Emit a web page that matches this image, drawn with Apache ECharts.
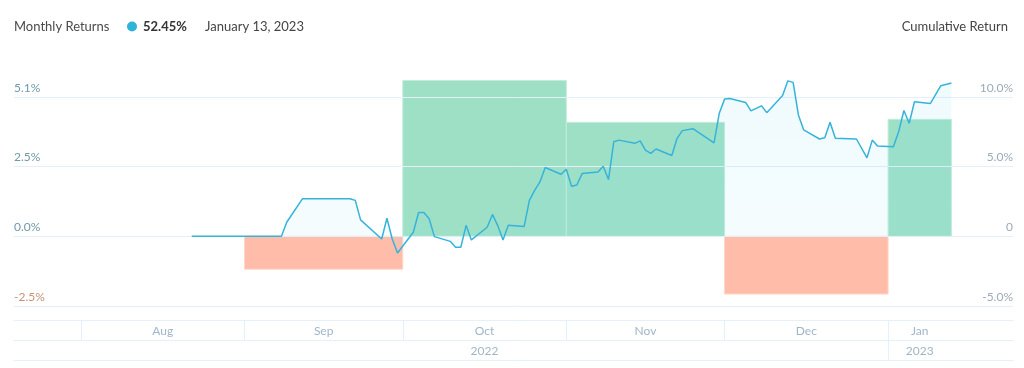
<!DOCTYPE html>
<html><head><meta charset="utf-8">
<script src="https://cdn.jsdelivr.net/npm/echarts@6/dist/echarts.min.js"></script>
<style>html,body{margin:0;padding:0;background:#fff}#c{width:1024px;height:368px}</style>
</head><body><div id="c"></div>
<script>
// ---- data ----
const summaryLabel = 'Monthly Returns';
const summaryValue = '52.45%';
const summaryDate = 'January 13, 2023';
const rightTitle = 'Cumulative Return';

const barStarts = ['2022-09-01','2022-10-01','2022-11-01','2022-12-01','2023-01-01'];
const barEnds   = ['2022-10-01','2022-11-01','2022-12-01','2023-01-01','2023-01-13'];
const monthlyReturns = [-1.20, 5.70, 4.17, -2.11, 4.28];

const cumDates = ['2022-08-22','2022-09-08','2022-09-09','2022-09-12','2022-09-21','2022-09-22','2022-09-23','2022-09-27','2022-09-28','2022-09-29','2022-09-30','2022-10-03','2022-10-04','2022-10-05','2022-10-06','2022-10-07','2022-10-10','2022-10-11','2022-10-12','2022-10-13','2022-10-14','2022-10-17','2022-10-18','2022-10-19','2022-10-20','2022-10-21','2022-10-24','2022-10-25','2022-10-26','2022-10-27','2022-10-28','2022-10-31','2022-11-01','2022-11-02','2022-11-03','2022-11-04','2022-11-07','2022-11-08','2022-11-09','2022-11-10','2022-11-11','2022-11-14','2022-11-15','2022-11-16','2022-11-17','2022-11-18','2022-11-21','2022-11-22','2022-11-23','2022-11-25','2022-11-29','2022-11-30','2022-12-01','2022-12-02','2022-12-05','2022-12-06','2022-12-08','2022-12-09','2022-12-12','2022-12-13','2022-12-14','2022-12-15','2022-12-16','2022-12-19','2022-12-20','2022-12-21','2022-12-22','2022-12-26','2022-12-28','2022-12-29','2022-12-30','2023-01-02','2023-01-03','2023-01-04','2023-01-05','2023-01-06','2023-01-09','2023-01-11','2023-01-13'];
const cumValues = [0, 0, 1.01, 2.70, 2.70, 2.58, 1.18, -0.19, 1.30, -0.19, -1.20, 0.29, 1.71, 1.71, 1.26, -0.02, -0.36, -0.79, -0.79, 0.79, -0.26, 0.65, 1.57, 0.77, -0.26, 0.79, 0.70, 2.58, 3.30, 3.90, 4.94, 4.45, 4.81, 3.59, 3.68, 4.50, 4.62, 5.03, 4.07, 6.78, 6.90, 6.67, 6.85, 6.18, 5.95, 6.26, 5.80, 7.03, 7.58, 7.72, 6.71, 8.83, 9.84, 9.88, 9.60, 9.00, 9.36, 8.87, 10.10, 11.15, 11.04, 8.71, 7.63, 6.98, 7.07, 8.18, 7.03, 6.98, 5.63, 6.90, 6.47, 6.42, 7.50, 9.02, 8.11, 9.65, 9.52, 10.80, 11.00];

const leftTicks = [-2.55, 0, 2.55, 5.1];
const rightTicks = [-5, 0, 5, 10];
const monthBounds = ['2022-08-01','2022-09-01','2022-10-01','2022-11-01','2022-12-01','2023-01-01','2023-01-13'];
const monthLabels = ['Aug','Sep','Oct','Nov','Dec','Jan'];
const yearBounds = ['2022-08-01','2023-01-01','2023-01-13'];
const yearLabels = ['2022','2023'];

// ---- helpers ----
const ts = s => { const p = s.split(' '); return +new Date(p[0] + 'T' + (p[1] || '00:00')); };
const mid = (a, b) => (ts(a) + ts(b)) / 2;
const nearest = (pos, labels, v) => { let k = 0; pos.forEach((p, i) => { if (Math.abs(p - v) < Math.abs(pos[k] - v)) k = i; }); return labels[k]; };
const xMin = ts('2022-07-19 07:12'), xMax = ts('2023-01-24 16:19');
const monthLabelPos = monthLabels.map((_, i) => mid(monthBounds[i], monthBounds[i + 1]));
const monthTickPos = monthBounds.slice(0, -1).map(ts);
const yearLabelPos = yearLabels.map((_, i) => mid(yearBounds[i], yearBounds[i + 1]));
const yearTickPos = yearBounds.slice(1, -1).map(ts);

const FONT = 'Lato, "Noto Sans", sans-serif';
const bandColor = '#e6f0f8';
const gridColor = '#e4eff8';
const lineColor = '#36b3da';
const posFill = '#9ee0c6', negFill = '#ffbda9';

const chart = echarts.init(document.getElementById('c'), null, {renderer: 'canvas'});
const titleStyle = {fontSize: 13, fontWeight: 'normal', color: '#4a4a4a', fontFamily: FONT};
const bandX = (offset, tickPos, labelPos, labels, showLabel) => ({
  type: 'value', gridIndex: 0, min: xMin, max: xMax, position: 'bottom', offset: offset,
  axisLine: {show: true, onZero: false, lineStyle: {color: bandColor, width: 1}},
  axisTick: {show: !!tickPos, inside: false, length: 20, customValues: tickPos || [xMin], lineStyle: {color: bandColor}},
  splitLine: {show: false},
  axisLabel: {show: showLabel, customValues: labelPos || [xMin], margin: 5, fontSize: 12, fontFamily: FONT, color: '#a0b6c6',
    formatter: v => labelPos ? nearest(labelPos, labels, v) : ''}
});

chart.setOption({
  animation: false,
  backgroundColor: '#fff',
  title: [
    {left: 14, top: 20, padding: 0, text: summaryLabel, textStyle: titleStyle},
    {left: 127, top: 20, padding: 0, text: '{dot| }{v|' + summaryValue + '}', textStyle: {fontFamily: FONT, rich: {
      dot: {width: 10, height: 10, borderRadius: 5, backgroundColor: '#2fb3d7'},
      v: {fontSize: 13, fontWeight: 'bold', color: '#333', fontFamily: FONT, padding: [0, 0, 0, 6]}}}},
    {left: 205, top: 20, padding: 0, text: summaryDate, textStyle: Object.assign({}, titleStyle, {color: '#444'})},
    {right: 16, top: 20, padding: 0, text: rightTitle, textStyle: Object.assign({}, titleStyle, {color: '#444'})}
  ],
  grid: {left: 14, right: 11, top: 69, bottom: 48, containLabel: false},
  xAxis: [
    bandX(0, monthTickPos, monthLabelPos, monthLabels, true),
    bandX(20, yearTickPos, yearLabelPos, yearLabels, true),
    bandX(40, null, null, [], false)
  ],
  yAxis: [
    {type: 'value', position: 'left', min: -3.06, max: 6.12, z: 2,
     axisLine: {show: false}, axisTick: {show: false, customValues: leftTicks},
     splitLine: {show: true, lineStyle: {color: gridColor, width: 1}},
     axisLabel: {inside: true, customValues: leftTicks, margin: 0, verticalAlign: 'bottom', padding: [0, 0, 3, 0],
       fontSize: 12, fontFamily: FONT,
       formatter: v => v.toFixed(1) + '%',
       color: v => parseFloat(v) < 0 ? '#c49378' : '#6f99a8'}},
    {type: 'value', position: 'right', min: -6, max: 12, z: 2,
     axisLine: {show: false}, axisTick: {show: false, customValues: rightTicks},
     splitLine: {show: false},
     axisLabel: {inside: true, customValues: rightTicks, margin: 0, verticalAlign: 'bottom', padding: [0, 0, 3, 0],
       fontSize: 12, fontFamily: FONT, color: '#9aabb9',
       formatter: v => v === 0 ? '0' : v.toFixed(1) + '%'}}
  ],
  series: [
    {type: 'custom', name: 'Monthly Returns', xAxisIndex: 0, yAxisIndex: 0, z: 1,
     data: barStarts.map((s, i) => [ts(s), ts(barEnds[i]), monthlyReturns[i]]),
     encode: {x: [0, 1], y: 2},
     renderItem: (params, api) => {
       const a = api.coord([api.value(0), 0]);
       const b = api.coord([api.value(1), api.value(2)]);
       const v = api.value(2);
       return {type: 'rect',
         shape: {x: a[0], y: Math.min(a[1], b[1]), width: b[0] - a[0], height: Math.abs(b[1] - a[1])},
         style: {fill: v >= 0 ? posFill : negFill, stroke: v >= 0 ? '#c4ecdc' : '#ffd6c9', lineWidth: 1}};
     }},
    {type: 'line', name: 'Cumulative Return', xAxisIndex: 0, yAxisIndex: 1, z: 3,
     data: cumDates.map((d, i) => [ts(d), cumValues[i]]),
     showSymbol: false, symbol: 'none',
     lineStyle: {color: lineColor, width: 1.5},
     areaStyle: {color: new echarts.graphic.LinearGradient(0, 0, 0, 1, [
       {offset: 0, color: 'rgba(110,215,240,0.15)'},
       {offset: 1, color: 'rgba(110,215,240,0.10)'}])}}
  ]
});
</script></body></html>
